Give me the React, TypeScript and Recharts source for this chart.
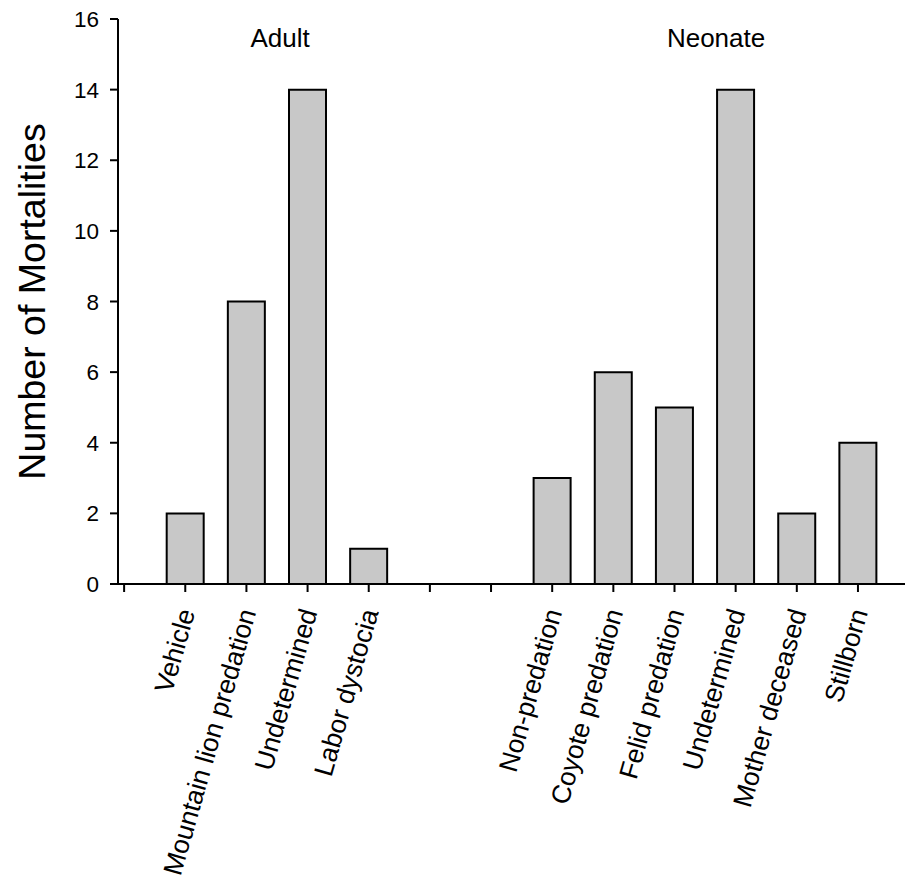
import React from "react";
import { BarChart, Bar, XAxis, YAxis, ReferenceDot, Label } from "recharts";

const tickLabels = [
  "",
  "Vehicle",
  "Mountain lion predation",
  "Undetermined",
  "Labor dystocia",
  "",
  "",
  "Non-predation",
  "Coyote predation",
  "Felid predation",
  "Undetermined",
  "Mother deceased",
  "Stillborn",
];
const barPositions = [1, 2, 3, 4, 7, 8, 9, 10, 11, 12];
const mortalities = [2, 8, 14, 1, 3, 6, 5, 14, 2, 4];
const yTicks = [0, 2, 4, 6, 8, 10, 12, 14, 16];
const groupNames = ["Adult", "Neonate"];
const groupCenters = [2.55, 9.68];
const groupLabelY = 15.2;

const data = barPositions.map((pos, i) => ({
  pos,
  name: tickLabels[pos],
  value: mortalities[i],
}));

const FONT = "'Liberation Sans', Arial, sans-serif";

const XTick = (props: any) => {
  const { x, y, payload } = props;
  const label = tickLabels[payload.value] ?? "";
  if (!label) return null;
  const ax = x + 10;
  const ay = y + 18;
  return (
    <text
      x={ax}
      y={ay}
      textAnchor="end"
      transform={`rotate(-74 ${ax} ${ay})`}
      fontSize={26.5}
      fontFamily={FONT}
      fill="#000"
    >
      {label}
    </text>
  );
};

const YTick = (props: any) => {
  const { x, y, payload } = props;
  return (
    <text
      x={x}
      y={y}
      dy={8}
      textAnchor="end"
      fontSize={22.5}
      fontFamily={FONT}
      fill="#000"
    >
      {payload.value}
    </text>
  );
};

const GroupText = (name: string) => (props: any) => {
  const { cx, cy } = props;
  return (
    <text
      x={cx}
      y={cy}
      textAnchor="middle"
      fontSize={26}
      fontFamily={FONT}
      fill="#000"
    >
      {name}
    </text>
  );
};

const YTitle = (props: any) => {
  const { viewBox } = props;
  const cx = 37;
  const cy = viewBox.y + viewBox.height / 2;
  return (
    <text
      x={cx}
      y={cy}
      textAnchor="middle"
      transform={`rotate(-90 ${cx} ${cy})`}
      fontSize={37.5}
      fontFamily={FONT}
      fill="#000"
    >
      Number of Mortalities
    </text>
  );
};

export default function App() {
  return (
    <div style={{ width: 905, height: 873, background: "#fff" }}>
      <BarChart
        width={905}
        height={873}
        data={data}
        margin={{ top: 11, right: 0, bottom: 7, left: 0 }}
      >
        <XAxis
          dataKey="pos"
          type="number"
          domain={[-0.1, 12.9]}
          allowDataOverflow
          ticks={tickLabels.map((_, i) => i)}
          interval={0}
          height={290}
          tickSize={8}
          tickMargin={2}
          axisLine={{ stroke: "#000", strokeWidth: 2 }}
          tickLine={{ stroke: "#000", strokeWidth: 2 }}
          tick={<XTick />}
        />
        <YAxis
          domain={[0, 16]}
          ticks={yTicks}
          width={110}
          tickSize={8}
          tickMargin={11}
          axisLine={{ stroke: "#000", strokeWidth: 2 }}
          tickLine={{ stroke: "#000", strokeWidth: 2 }}
          tick={<YTick />}
          allowDataOverflow
        >
          <Label content={<YTitle />} />
        </YAxis>
        <Bar
          dataKey="value"
          barSize={37}
          fill="#c8c8c8"
          stroke="#000"
          strokeWidth={2}
          isAnimationActive={false}
        />
        {groupNames.map((name, i) => (
          <ReferenceDot
            key={name}
            x={groupCenters[i]}
            y={groupLabelY}
            r={0}
            shape={GroupText(name)}
            ifOverflow="visible"
          />
        ))}
      </BarChart>
    </div>
  );
}
